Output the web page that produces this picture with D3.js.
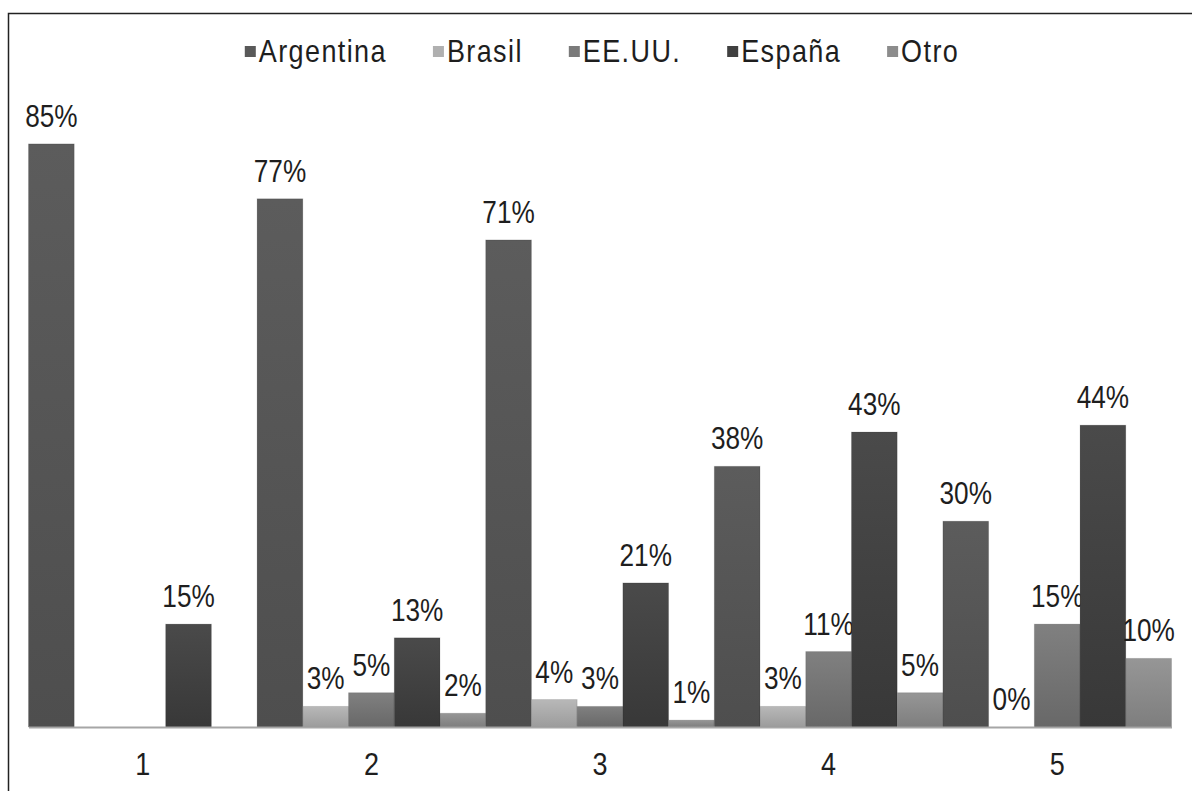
<!DOCTYPE html>
<html>
<head>
<meta charset="utf-8">
<script src="https://cdn.jsdelivr.net/npm/d3@7"></script>
<style>
  body { margin: 0; background: #fff; }
  svg { display: block; font-family: "Liberation Sans", Arial, sans-serif; }
</style>
</head>
<body>
<svg id="chart" width="1192" height="791"></svg>
<script>
// data
const categories = ["1", "2", "3", "4", "5"];
const series = ["Argentina", "Brasil", "EE.UU.", "España", "Otro"];
const argentina = [85, 77, 71, 38, 30];
const brasil = [null, 3, 4, 3, 0];
const eeuu = [null, 5, 3, 11, 15];
const espana = [15, 13, 21, 43, 44];
const otro = [null, 2, 1, 5, 10];
const values = [argentina, brasil, eeuu, espana, otro];

// greys for each series: [legend, gradient top, gradient bottom]
const colors = [
  ["#595959", "#5c5c5c", "#4e4e4e"],
  ["#b0b0b0", "#b8b8b8", "#9c9c9c"],
  ["#7a7a7a", "#808080", "#686868"],
  ["#404040", "#4a4a4a", "#383838"],
  ["#8c8c8c", "#969696", "#7e7e7e"],
];

const FONT = 27;
const STRETCH = 1.18; // glyphs in the original look tall and narrow
const TEXT = "#1e1e1e";
const LEGEND_GAP = 46;
const svg = d3.select("#chart");

// frame
svg.append("rect")
  .attr("x", 8.5).attr("y", 13.5)
  .attr("width", 1200).attr("height", 800)
  .attr("fill", "none").attr("stroke", "#222").attr("stroke-width", 1.5);

// gradients
const defs = svg.append("defs");
series.forEach((s, i) => {
  const g = defs.append("linearGradient")
    .attr("id", `grad-${i}`)
    .attr("x1", 0).attr("y1", 0).attr("x2", 0).attr("y2", 1);
  g.append("stop").attr("offset", "0%").attr("stop-color", colors[i][1]);
  g.append("stop").attr("offset", "100%").attr("stop-color", colors[i][2]);
});

// scales
const x0 = d3.scaleBand().domain(categories).range([28.5, 1171.5]).padding(0);
const x1 = d3.scaleBand().domain(series).range([0, x0.bandwidth()]).padding(0);
const y = d3.scaleLinear().domain([0, 100]).range([727, 41]);

// bars
const groups = svg.append("g").selectAll("g")
  .data(categories)
  .join("g")
  .attr("transform", (d) => `translate(${x0(d)},0)`);

const cells = groups.selectAll("g.cell")
  .data((c, ci) => series.map((s, si) => ({ s, si, v: values[si][ci] })))
  .join("g").attr("class", "cell");

cells.filter((d) => d.v !== null && d.v > 0)
  .append("rect")
  .attr("x", (d) => x1(d.s))
  .attr("y", (d) => y(d.v))
  .attr("width", x1.bandwidth())
  .attr("height", (d) => y(0) - y(d.v))
  .attr("fill", (d) => `url(#grad-${d.si})`)
  .attr("stroke", "rgba(0,0,0,0.12)")
  .attr("stroke-width", 1);

// value labels
cells.filter((d) => d.v !== null)
  .append("text")
  .attr("transform", (d) =>
    `translate(${x1(d.s) + x1.bandwidth() / 2},${y(d.v) - 17}) scale(0.97,${STRETCH})`)
  .attr("text-anchor", "middle")
  .attr("font-size", FONT)
  .attr("fill", TEXT)
  .text((d) => `${d.v}%`);

// x axis
const xAxis = svg.append("g")
  .attr("transform", `translate(0,${y(0)})`)
  .call(d3.axisBottom(x0).tickSize(0).tickPadding(0));
xAxis.select(".domain").attr("stroke", "#a6a6a6").attr("stroke-width", 2);
xAxis.selectAll(".tick text")
  .attr("dy", null).attr("y", null)
  .attr("transform", `translate(0,48) scale(1,${STRETCH})`)
  .attr("font-size", FONT)
  .attr("font-family", "Liberation Sans, Arial, sans-serif")
  .attr("fill", TEXT);

// legend
const legend = svg.append("g");
let lx = 0;
series.forEach((s, i) => {
  const item = legend.append("g").attr("transform", `translate(${lx},0)`);
  item.append("rect")
    .attr("x", 0).attr("y", -19)
    .attr("width", 11).attr("height", 11)
    .attr("fill", colors[i][0]);
  const t = item.append("text")
    .attr("transform", `translate(14,-3) scale(1,${STRETCH})`)
    .attr("font-size", FONT)
    .attr("letter-spacing", 1.4)
    .attr("fill", TEXT)
    .text(s);
  lx += 14 + t.node().getComputedTextLength() + LEGEND_GAP;
});
const legendWidth = lx - LEGEND_GAP;
legend.attr("transform", `translate(${602 - legendWidth / 2},65)`);
</script>
</body>
</html>
